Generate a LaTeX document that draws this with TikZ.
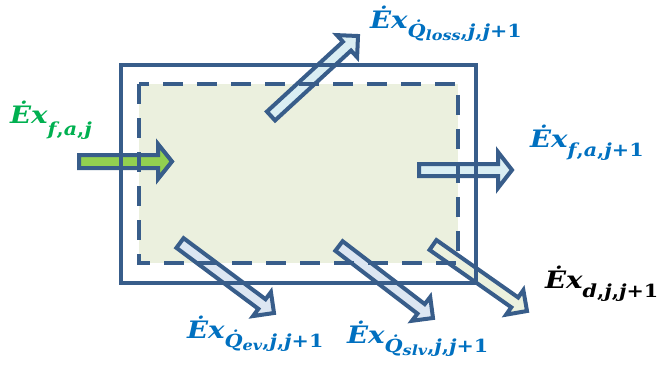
\documentclass[tikz,border=0pt]{standalone}
\usepackage{fontspec}
\usetikzlibrary{calc}
\newfontfamily\lblfont{DejaVu Serif}[FakeStretch=1.15]
\definecolor{edge}{RGB}{56,93,138}
\definecolor{boxfill}{RGB}{235,240,222}
\definecolor{grnfill}{RGB}{146,208,80}
\definecolor{cyanfill}{RGB}{218,238,243}
\definecolor{lavfill}{RGB}{220,230,242}
\definecolor{oliefill}{RGB}{235,241,222}
\definecolor{grntext}{RGB}{0,176,80}
\definecolor{bluetext}{RGB}{0,112,192}
\newcommand{\sbs}[2][9pt]{\raisebox{-#1}{\fontsize{18}{18}\selectfont #2}}
\newcommand{\ssbs}[1]{\raisebox{-3pt}{\fontsize{14}{14}\selectfont #1}}
\newcommand{\cm}{\textup{,}}
\newcommand{\blockarrow}[6]{% tail, tip, shaft half, head half, head length, fill
  \coordinate (hb) at ($(#2)!#5!(#1)$);
  \draw[arrowline,fill=#6]
    ($(#1)!#3!90:(#2)$) -- ($(hb)!#3!90:(#2)$) -- ($(hb)!#4!90:(#2)$) -- (#2)
    -- ($(hb)!#4!-90:(#2)$) -- ($(hb)!#3!-90:(#2)$) -- ($(#1)!#3!-90:(#2)$) -- cycle;
}
\tikzset{
  arrowline/.style={draw=edge,line width=4pt,line join=miter},
  lbl/.style={font=\lblfont\bfseries\itshape\fontsize{24}{26}\selectfont,anchor=base west,inner sep=0pt},
}
\begin{document}
\begin{tikzpicture}[x=1pt,y=-1pt]
\useasboundingbox (0,0) rectangle (657,365);
% box fill
\fill[boxfill] (139,84) rectangle (458,263);
% arrows
\coordinate (gA) at (79,161.5); \coordinate (gB) at (172,161.5);
\blockarrow{gA}{gB}{6.5pt}{17.5pt}{14pt}{grnfill}
\coordinate (rA) at (419,170); \coordinate (rB) at (512,170);
\blockarrow{rA}{rB}{6pt}{18pt}{14pt}{cyanfill}
\coordinate (lA) at (271,116); \coordinate (lB) at (358,36);
\blockarrow{lA}{lB}{6pt}{15pt}{15pt}{cyanfill}
\coordinate (eA) at (180,243); \coordinate (eB) at (274,313);
\blockarrow{eA}{eB}{6pt}{15pt}{15pt}{lavfill}
\coordinate (sA) at (339,246); \coordinate (sB) at (433,318);
\blockarrow{sA}{sB}{6pt}{15pt}{15pt}{lavfill}
\coordinate (dA) at (433,245); \coordinate (dB) at (527,311);
\blockarrow{dA}{dB}{6pt}{15pt}{15pt}{oliefill}
% rectangles
\draw[edge,line width=4.5pt] (121,65) rectangle (476,283);
\draw[edge,line width=4pt,dash pattern=on 20pt off 14pt] (139,84) rectangle (458,263);
% labels
\node[lbl,text=grntext] (lfa) at (10,123) {\.{E}x\sbs[12pt]{f\cm a\cm j}};
\node[lbl,text=bluetext] (lloss) at (370,28) {\.{E}x\sbs{\.{Q}\ssbs{loss}\cm j\cm j\textup{+1}}};
\node[lbl,text=bluetext] (lfa1) at (530,147) {\.{E}x\sbs{f\cm a\cm j\textup{+1}}};
\node[lbl,text=black] (ld) at (545,288) {\.{E}x\sbs{d\cm j\cm j\textup{+1}}};
\node[lbl,text=bluetext] (lev) at (187,338) {\.{E}x\sbs{\.{Q}\ssbs{ev}\cm j\cm j\textup{+1}}};
\node[lbl,text=bluetext] (lslv) at (347,343) {\.{E}x\sbs{\.{Q}\ssbs{slv}\cm j\cm j\textup{+1}}};
\end{tikzpicture}
\end{document}
